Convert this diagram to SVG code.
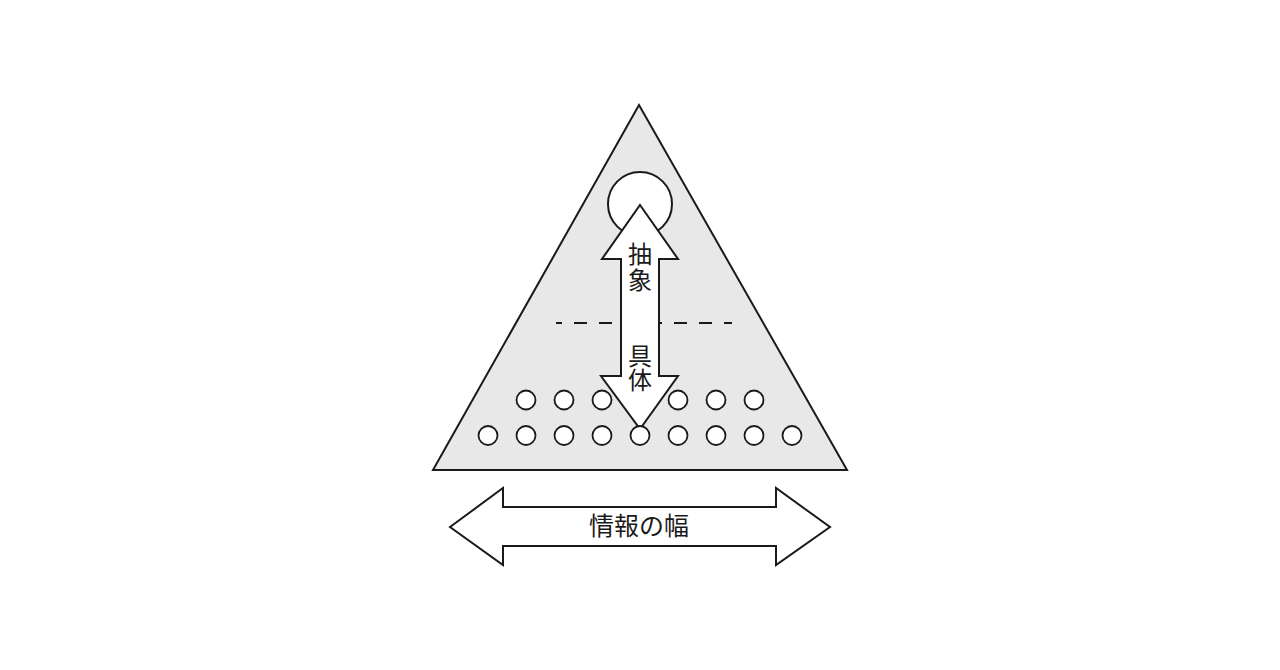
<svg xmlns="http://www.w3.org/2000/svg" width="1280" height="670" viewBox="0 0 1280 670">
<style>
.ln{stroke:#1a1a1a;stroke-width:2;stroke-linejoin:miter}
.wf{fill:#ffffff}
.dot{fill:#ffffff;stroke:#1a1a1a;stroke-width:1.8}
.tx{font-family:"Noto Sans CJK JP","Noto Sans CJK SC",sans-serif;fill:#1a1a1a;text-anchor:middle}
.vt{font-family:"Noto Sans CJK JP","Noto Sans CJK SC",sans-serif;fill:#1a1a1a;writing-mode:vertical-rl;text-anchor:start;font-size:24px}
</style>
<rect width="1280" height="670" fill="#ffffff"/>
<g id="pyramid">
<polygon class="ln" fill="#e8e8e8" points="639,105 433,470 847,470"/>
</g>
<g id="top-circle">
<circle class="ln wf" cx="640" cy="204" r="32"/>
</g>
<g id="divider">
<line x1="556" y1="323" x2="732" y2="323" stroke="#1a1a1a" stroke-width="2.2" stroke-dasharray="13 12" stroke-dashoffset="7"/>
</g>
<g id="bottom-dots">
<circle class="dot" cx="526" cy="400" r="9.5"/>
<circle class="dot" cx="564" cy="400" r="9.5"/>
<circle class="dot" cx="602" cy="400" r="9.5"/>
<circle class="dot" cx="678" cy="400" r="9.5"/>
<circle class="dot" cx="716" cy="400" r="9.5"/>
<circle class="dot" cx="754" cy="400" r="9.5"/>
</g>
<g id="connectors">
<g id="abstract-concrete-arrow">
<polygon class="ln wf" points="640,205 678,259 659,259 659,376 678,376 640,429 601,376 621,376 621,259 602,259"/>
<text class="vt" x="640" y="242" letter-spacing="2">抽象</text>
<text class="vt" x="640" y="344">具体</text>
</g>
<g id="width-arrow">
<polygon class="ln wf" points="450,527 503,488 503,507 776,507 776,488 830,527 776,565 776,546 503,546 503,565"/>
<text class="tx" x="639" y="535" font-size="25">情報の幅</text>
</g>
</g>
<g id="bottom-row">
<circle class="dot" cx="488" cy="435.5" r="9.5"/>
<circle class="dot" cx="526" cy="435.5" r="9.5"/>
<circle class="dot" cx="564" cy="435.5" r="9.5"/>
<circle class="dot" cx="602" cy="435.5" r="9.5"/>
<circle class="dot" cx="640" cy="435.5" r="9.5"/>
<circle class="dot" cx="678" cy="435.5" r="9.5"/>
<circle class="dot" cx="716" cy="435.5" r="9.5"/>
<circle class="dot" cx="754" cy="435.5" r="9.5"/>
<circle class="dot" cx="792" cy="435.5" r="9.5"/>
</g>
</svg>
